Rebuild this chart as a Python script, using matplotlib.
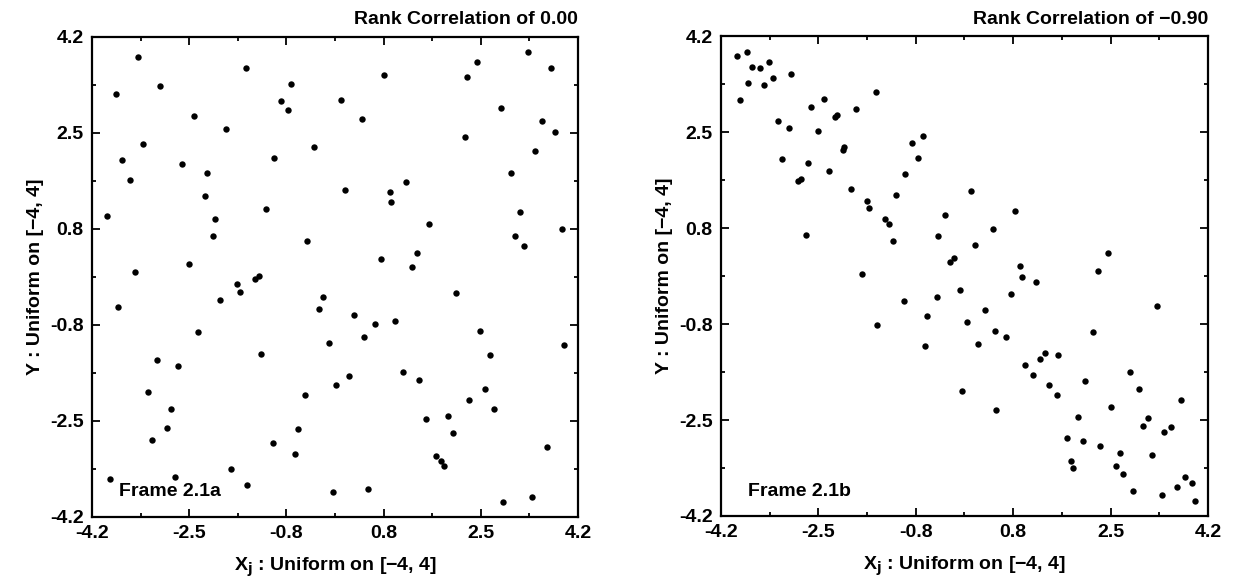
import numpy as np
import matplotlib
matplotlib.use("Agg")
import matplotlib.pyplot as plt
from matplotlib.ticker import FixedLocator, FormatStrFormatter

plt.rcParams['font.family'] = ['Liberation Sans', 'DejaVu Sans']
plt.rcParams['font.weight'] = 'bold'
plt.rcParams['mathtext.default'] = 'regular'
plt.rcParams['axes.unicode_minus'] = True

# ---- data: left panel (rank correlation 0.00) ----
left_x = [-3.94, -3.78, -3.69, -3.54, -3.40, -3.45, -3.31, -3.03, -2.65, -2.52,
          -2.44, -2.22, -2.25, -2.08, -2.11, -1.88, -1.69, -1.65, -1.54, -1.38,
          -1.31, -1.20, -1.05, -0.94, -0.82, -0.755, -0.48, -0.36, -0.21, 0.11,
          0.18, 0.47, 0.80, 0.85, 0.95, 0.97, 1.22, 1.33, 1.41, 1.62,
          2.10, 2.24, 2.29, 2.46, 2.87, 3.04, 3.19, 3.11, 3.26, 3.33,
          3.46, 3.57, 3.73, 3.81, 3.92,
          -1.99, -3.75, -2.37, -3.07, -2.72, -1.28, -3.23, -2.84, -2.90, -3.16,
          -3.89, -2.76, -1.80, -1.52, -1.08, -0.685, -0.64, -0.52, -0.28, -0.11,
          0.015, 0.24, 0.33, 0.51, 0.70, 1.04, -0.03, 0.57, 1.18, 1.45,
          1.58, 1.75, 1.84, 1.89, 1.96, 2.04, 2.32, 2.51, 2.68, 2.60,
          2.74, 2.91, 3.41, 3.67, 3.96]
left_y = [1.07, 3.20, 2.05, 1.69, 3.84, 0.08, 2.32, 3.33, 1.97, 0.23,
          2.81, 1.81, 1.41, 1.01, 0.71, 2.59, -0.12, -0.26, 3.66, -0.04,
          0.02, 1.19, 2.07, 3.08, 2.91, 3.38, 0.63, 2.27, -0.35, 3.10,
          1.51, 2.76, 0.31, 3.53, 1.48, 1.30, 1.66, 0.17, 0.41, 0.93,
          -0.29, 2.45, 3.49, 3.76, 2.96, 1.81, 1.14, 0.72, 0.54, 3.93,
          2.20, 2.72, 3.65, 2.54, 0.83,
          -0.40, -0.53, -0.96, -1.46, -1.56, -1.35, -2.01, -2.31, -2.64, -2.85,
          -3.54, -3.50, -3.37, -3.65, -2.90, -3.10, -2.67, -2.07, -0.56, -1.16,
          -1.90, -1.73, -0.67, -1.05, -0.83, -0.78, -3.77, -3.72, -1.66, -1.81,
          -2.49, -3.13, -3.23, -3.31, -2.44, -2.73, -2.15, -0.95, -1.37, -1.97,
          -2.31, -3.94, -3.86, -2.97, -1.19]

# ---- data: right panel (rank correlation -0.90) ----
right_x = [-3.92, -3.76, -3.67, -3.53, -3.37, -3.74, -3.45, -3.30, -3.00, -3.88,
           -3.21, -3.03, -2.64, -2.43, -2.52, -2.24, -2.20, -1.87, -1.52, -3.15,
           -2.70, -2.88, -2.82, -2.34, -2.09, -2.07, -1.96, -1.68, -1.64, -2.73,
           -1.37, -1.30, -1.23, -1.18, -1.03, -0.91, -0.80, -0.72, -1.77, -0.34,
           -0.46, 0.12, 0.19, -0.25, -0.18, 0.49, 0.88, 0.96, 0.99, 1.23,
           2.48, 2.31, -1.04, -0.47, -0.07, 0.81,
           -1.51, -0.64, -0.68, 0.04, 0.35, 0.24, 0.52, 0.71, -0.04, 0.55,
           1.05, 1.19, 1.31, 1.39, 1.61, 1.45, 1.60, 2.22, 2.08, 1.96,
           1.76, 2.04, 2.33, 1.84, 1.88, 2.53, 2.85, 3.01, 3.32, 3.73,
           3.16, 3.08, 3.56, 3.44, 3.24, 2.69, 2.61, 2.73, 2.91, 3.40,
           3.67, 3.80, 3.92, 3.98]
right_y = [3.85, 3.92, 3.67, 3.65, 3.75, 3.39, 3.35, 3.48, 3.54, 3.08,
           2.71, 2.60, 2.96, 3.11, 2.54, 2.78, 2.82, 2.92, 3.22, 2.06,
           1.99, 1.67, 1.71, 1.84, 2.21, 2.26, 1.52, 1.31, 1.20, 0.72,
           1.01, 0.92, 0.62, 1.42, 1.79, 2.33, 2.07, 2.45, 0.03, 1.08,
           0.70, 1.49, 0.54, 0.24, 0.32, 0.82, 1.14, 0.18, -0.02, -0.10,
           0.41, 0.09, -0.43, -0.37, -0.25, -0.32,
           -0.85, -0.69, -1.23, -0.80, -0.59, -1.18, -0.96, -1.07, -2.01, -2.34,
           -1.56, -1.73, -1.45, -1.35, -1.38, -1.90, -2.08, -0.98, -1.83, -2.46,
           -2.84, -2.89, -2.98, -3.23, -3.36, -2.29, -1.67, -1.98, -0.53, -2.16,
           -2.49, -2.62, -2.65, -2.73, -3.13, -3.09, -3.32, -3.47, -3.76, -3.84,
           -3.70, -3.51, -3.62, -3.93]

titles = ["Rank Correlation of 0.00", "Rank Correlation of \u22120.90"]
frame_labels = ["Frame 2.1a", "Frame 2.1b"]
xlabel = "X$_\\mathbf{j}$ : Uniform on [\u22124, 4]"
ylabel = "Y : Uniform on [\u22124, 4]"
lim = 4.2
major_ticks = np.linspace(-4.2, 4.2, 6)
minor_ticks = np.linspace(-4.2, 4.2, 11)

FS = 14
fig = plt.figure(figsize=(12.35, 5.87), dpi=100)
axL = fig.add_axes([0.0745, 0.1195, 0.3935, 0.818])
axR = fig.add_axes([0.5838, 0.1210, 0.3943, 0.817])

for ax, xs, ys, title, flab in [(axL, left_x, left_y, titles[0], frame_labels[0]),
                                 (axR, right_x, right_y, titles[1], frame_labels[1])]:
    ax.plot(xs, ys, 'o', color='black', ms=4.6, mew=0)
    ax.set_xlim(-lim, lim)
    ax.set_ylim(-lim, lim)
    for axis in (ax.xaxis, ax.yaxis):
        axis.set_major_locator(FixedLocator(major_ticks))
        axis.set_minor_locator(FixedLocator(minor_ticks))
        axis.set_major_formatter(FormatStrFormatter('%.1f'))
    ax.tick_params(which='both', direction='in', top=True, right=True, width=1.3)
    ax.tick_params(which='major', length=5.5, labelsize=FS, pad=6)
    ax.tick_params(which='minor', length=3)
    for s in ax.spines.values():
        s.set_linewidth(1.6)
    ax.set_title(title, loc='right', fontsize=FS, fontweight='bold', pad=9)
    ax.set_xlabel(xlabel, fontsize=FS, fontweight='bold', labelpad=10)
    ax.set_ylabel(ylabel, fontsize=FS, fontweight='bold', labelpad=4)
    ax.text(0.055, 0.052, flab, transform=ax.transAxes, fontsize=FS,
            fontweight='bold', ha='left', va='center')

fig.savefig("out.png", dpi=100)
